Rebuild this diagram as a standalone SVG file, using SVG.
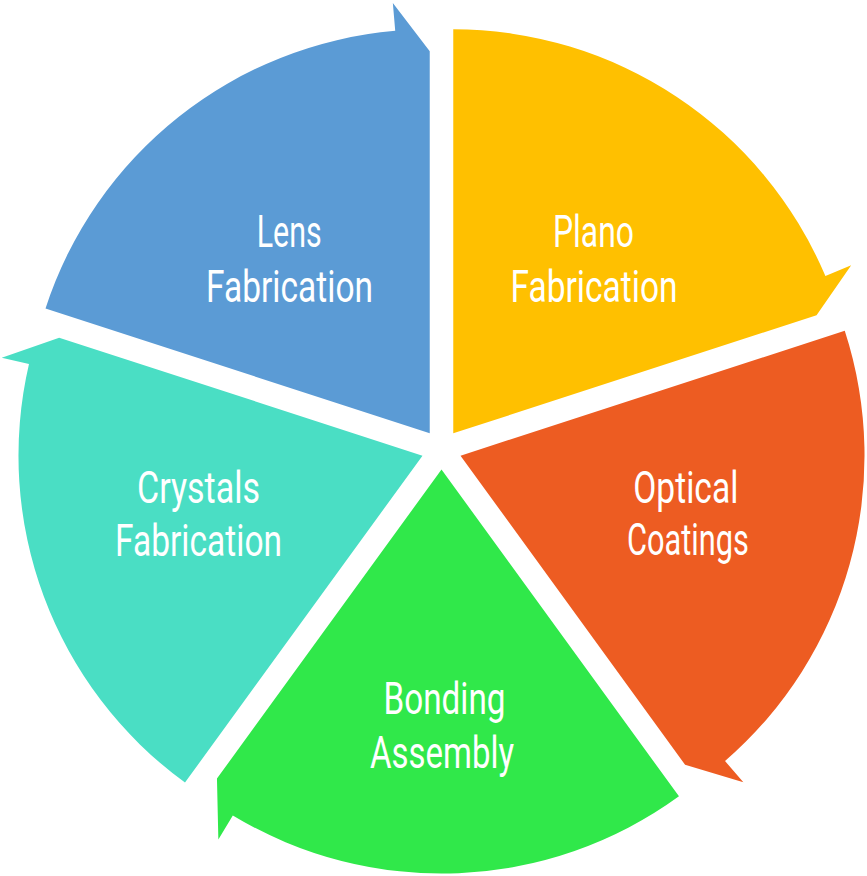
<svg xmlns="http://www.w3.org/2000/svg" width="867" height="876" viewBox="0 0 867 876">
<style>
.lbl{font-family:Roboto,"Liberation Sans",sans-serif;font-size:45px;font-weight:400;fill:#ffffff;text-anchor:middle}
</style>
<rect width="867" height="876" fill="#ffffff"/>
<g id="plano">
<path d="M453.26 433.32 L453.26 29.32 A404 404 0 0 1 825.42 276.12 L851.21 265.22 L816.56 315.27 Z" fill="#FFC000"/>
<text class="lbl" x="593.5" y="247" textLength="81" lengthAdjust="spacingAndGlyphs">Plano</text>
<text class="lbl" x="594" y="302" textLength="167" lengthAdjust="spacingAndGlyphs">Fabrication</text>
</g>
<g id="optical">
<path d="M460.52 455.68 L844.75 330.84 A404 404 0 0 1 725.03 761.04 L743.37 782.21 L685.06 764.73 Z" fill="#ED5C22"/>
<text class="lbl" x="685.8" y="503" textLength="105" lengthAdjust="spacingAndGlyphs">Optical</text>
<text class="lbl" x="688" y="555" textLength="122" lengthAdjust="spacingAndGlyphs">Coatings</text>
</g>
<g id="bonding">
<path d="M441.5 469.5 L678.97 796.34 A404 404 0 0 1 232.82 815.43 L218.36 839.41 L216.96 778.55 Z" fill="#30E84A"/>
<text class="lbl" x="444.5" y="714" textLength="122" lengthAdjust="spacingAndGlyphs">Bonding</text>
<text class="lbl" x="442" y="768" textLength="144" lengthAdjust="spacingAndGlyphs">Assembly</text>
</g>
<g id="crystals">
<path d="M422.48 455.68 L185.01 782.52 A404 404 0 0 1 28.99 364.11 L1.72 357.77 L59.18 337.63 Z" fill="#4ADEC4"/>
<text class="lbl" x="198.5" y="503" textLength="123" lengthAdjust="spacingAndGlyphs">Crystals</text>
<text class="lbl" x="198.5" y="556" textLength="167" lengthAdjust="spacingAndGlyphs">Fabrication</text>
</g>
<g id="lens">
<path d="M429.74 433.32 L45.51 308.48 A404 404 0 0 1 395.23 30.79 L392.84 2.9 L429.74 51.32 Z" fill="#5B9BD5"/>
<text class="lbl" x="289.2" y="247" textLength="65" lengthAdjust="spacingAndGlyphs">Lens</text>
<text class="lbl" x="289.5" y="302" textLength="167" lengthAdjust="spacingAndGlyphs">Fabrication</text>
</g>
</svg>
